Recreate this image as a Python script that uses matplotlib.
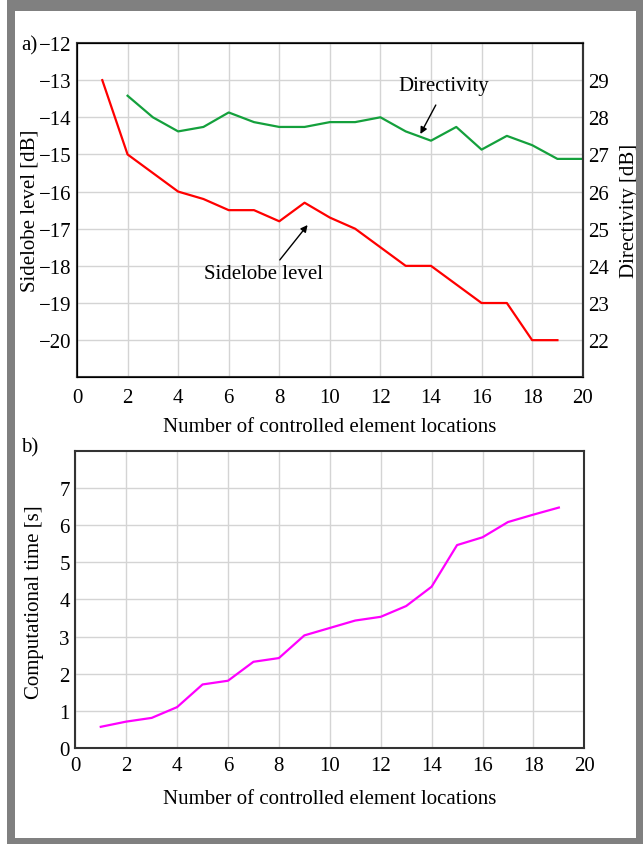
import matplotlib
matplotlib.use("Agg")
import matplotlib.pyplot as plt
from matplotlib.patches import Rectangle

plt.rcParams["font.family"] = ["Liberation Serif", "DejaVu Serif"]
plt.rcParams["font.size"] = 15

# sidelobe level vs. number of controlled locations
sll_x = list(range(1, 20))
sll_db = [-13.0, -15.0, -15.5, -16.0, -16.2, -16.5, -16.5, -16.8, -16.3, -16.7,
          -17.0, -17.5, -18.0, -18.0, -18.5, -19.0, -19.0, -20.0, -20.0]

# directivity (right axis)
dir_x = list(range(2, 21))
dir_db = [28.58, 28.0, 27.62, 27.74, 28.13, 27.87, 27.74, 27.74, 27.87, 27.87,
          28.0, 27.62, 27.37, 27.74, 27.13, 27.5, 27.25, 26.88, 26.88]

# computational time
time_x = list(range(1, 20))
time_s = [0.57, 0.71, 0.81, 1.1, 1.71, 1.81, 2.32, 2.42, 3.03, 3.23,
          3.43, 3.53, 3.82, 4.34, 5.46, 5.67, 6.08, 6.28, 6.47]

xticks = list(range(0, 21, 2))
sll_ticks = list(range(-20, -11))
dir_ticks = list(range(22, 30))
time_ticks = list(range(0, 8))

W, H = 643, 845
fig = plt.figure(figsize=(W / 100, H / 100), dpi=100)
fig.patch.set_facecolor("white")


def px_box(x0, y0, x1, y1):
    # pixel box (top-left origin) -> figure fraction rect
    return [x0 / W, 1 - y1 / H, (x1 - x0) / W, (y1 - y0) / H]


def style(ax, xpad=6):
    ax.grid(True, color="#d4d4d4", lw=1.0)
    ax.set_axisbelow(True)
    ax.tick_params(axis="x", length=0, pad=xpad, labelsize=15)
    ax.tick_params(axis="y", length=0, pad=4, labelsize=15)
    for s in ax.spines.values():
        s.set_color("#333333")
        s.set_linewidth(1.5)


# --- a) sidelobe level and directivity
ax1 = fig.add_axes(px_box(77, 44, 582.7, 378.3))
style(ax1, xpad=8)
ax1.plot(sll_x, sll_db, color="#ff0000", lw=1.6)
ax1.set_xlim(0, 20)
ax1.set_ylim(-21, -12)
ax1.set_xticks(xticks)
ax1.set_yticks(sll_ticks)
ax1.set_xlabel("Number of controlled element locations")
ax1.set_ylabel("Sidelobe level [dB]")
ax1.xaxis.set_label_coords(0.5, -0.12)
ax1.yaxis.set_label_coords(-0.075, 0.5)

ax2 = ax1.twinx()
ax2.plot(dir_x, dir_db, color="#14a03c", lw=1.6)
ax2.set_ylim(21, 30)
ax2.set_yticks(dir_ticks)
ax2.tick_params(length=0, pad=4, labelsize=15)
ax2.spines["right"].set_color("#333333")
ax2.spines["right"].set_linewidth(1.5)
ax2.set_ylabel("Directivity [dB]")
ax2.yaxis.set_label_coords(1.074, 0.5)

arrow = dict(arrowstyle="-|>", color="black", lw=1.0, mutation_scale=10,
             shrinkA=0, shrinkB=0)
ax2.text(14.5, 28.86, "Directivity", ha="center", va="center", fontsize=15)
ax2.annotate("", xy=(13.58, 27.55), xytext=(14.19, 28.33), arrowprops=arrow)
ax1.text(7.37, -18.2, "Sidelobe level", ha="center", va="center", fontsize=15)
ax1.annotate("", xy=(9.12, -16.9), xytext=(8.02, -17.84), arrowprops=arrow)

# --- b) computational time
ax3 = fig.add_axes(px_box(75.3, 451.7, 584.3, 749))
style(ax3)
ax3.plot(time_x, time_s, color="#ff00ff", lw=1.6)
ax3.set_xlim(0, 20)
ax3.set_ylim(0, 8)
ax3.set_xticks(xticks)
ax3.set_yticks(time_ticks)
ax3.set_xlabel("Number of controlled element locations")
ax3.set_ylabel("Computational time [s]")
ax3.xaxis.set_label_coords(0.5, -0.139)
ax3.yaxis.set_label_coords(-0.061, 0.494)

fig.text(21 / W, 1 - 46 / H, "a)", ha="left", va="center", fontsize=15)
fig.text(21 / W, 1 - 448 / H, "b)", ha="left", va="center", fontsize=15)

# gray frame
gray = "#808080"
for x0, y0, x1, y1 in [(7, 0, 15, H), (636, 0, W, H), (7, 0, W, 12), (7, 839, W, H)]:
    fig.patches.append(Rectangle((x0 / W, 1 - y1 / H), (x1 - x0) / W, (y1 - y0) / H,
                                 transform=fig.transFigure, color=gray, lw=0, zorder=10))

fig.savefig("out.png", dpi=100)
